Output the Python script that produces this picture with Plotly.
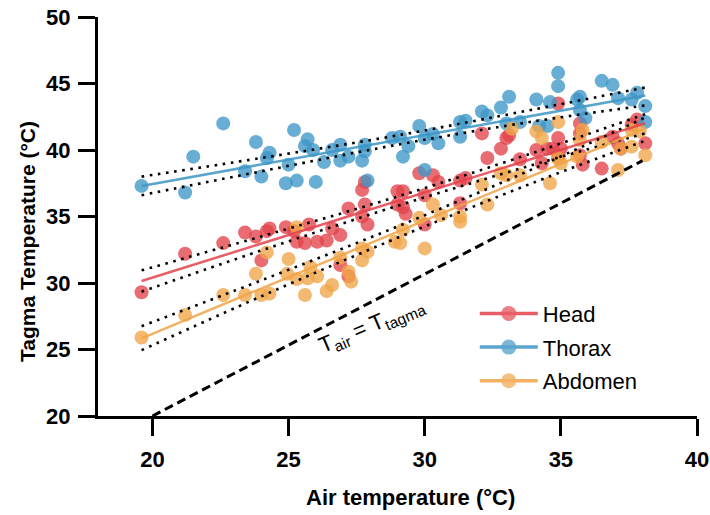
import plotly.graph_objects as go

# ---------------- data ----------------
thorax_x = [19.6, 21.2, 21.5, 22.6, 23.4, 23.8, 24.0, 24.3, 24.2, 25.0, 25.2, 24.9, 25.3, 25.7, 25.6,
            25.9, 26.0, 26.3, 26.6, 26.9, 26.9, 27.2, 27.7, 27.8, 27.8, 27.9, 28.8, 29.1, 29.2, 29.4,
            29.8, 30.0, 30.3, 30.5, 30.0, 31.3, 31.5, 31.3, 32.1, 32.3, 32.8, 33.1, 33.0, 33.5, 34.1,
            34.6, 34.9, 34.9, 34.2, 34.5, 35.6, 35.7, 35.7, 35.9, 36.5, 36.9, 37.1, 37.6, 37.8, 38.1, 38.1]
thorax_y = [37.3, 36.8, 39.5, 42.0, 38.4, 40.6, 38.0, 39.8, 39.4, 38.9, 41.5, 37.5, 37.7, 40.8, 40.3,
            40.0, 37.6, 39.1, 40.0, 40.4, 39.2, 39.5, 39.2, 40.4, 39.9, 37.7, 40.9, 41.0, 39.5, 40.3,
            41.8, 40.9, 41.2, 40.5, 38.5, 42.1, 42.2, 41.0, 42.9, 42.6, 43.2, 44.0, 42.0, 42.1, 43.8,
            43.6, 45.8, 44.8, 41.8, 41.8, 43.8, 44.0, 43.0, 42.4, 45.2, 44.9, 43.9, 43.8, 44.3, 43.3, 42.1]

head_x = [19.6, 21.2, 22.6, 23.4, 23.8, 24.2, 24.3, 24.0, 24.9, 25.2, 25.3, 25.6, 25.75, 26.05, 26.4,
          26.6, 26.9, 27.2, 27.7, 27.9, 27.8, 27.7, 27.8, 29.0, 29.2, 29.0, 29.2, 29.3, 29.8, 30.3,
          30.5, 30.0, 30.0, 31.3, 31.5, 31.3, 32.1, 32.3, 32.8, 33.0, 33.1, 33.5, 26.9, 27.2, 34.9,
          34.1, 34.3, 34.5, 34.7, 34.9, 35.0, 34.9, 35.7, 35.7, 35.7, 35.8, 36.5, 36.9, 37.1, 37.2,
          37.6, 37.8, 38.1]
head_y = [29.3, 32.2, 33.0, 33.8, 33.5, 33.9, 34.1, 31.7, 34.2, 33.9, 33.1, 33.0, 34.4, 33.1, 33.2,
          34.1, 33.6, 35.6, 35.0, 34.4, 35.9, 37.0, 37.6, 36.9, 36.9, 35.9, 35.7, 35.2, 38.25, 38.1,
          37.6, 36.6, 34.4, 37.7, 37.9, 36.0, 41.25, 39.4, 40.1, 40.9, 41.1, 39.3, 31.35, 30.5, 43.5,
          40.0, 39.0, 40.1, 40.1, 40.9, 40.1, 39.4, 42.0, 41.25, 39.6, 38.9, 38.6, 41.0, 40.5, 40.1,
          41.9, 42.3, 40.5]

abdomen_x = [19.6, 21.2, 22.6, 23.4, 23.8, 24.0, 24.3, 24.2, 25.0, 24.95, 25.3, 25.6, 25.8, 25.7, 26.05,
             26.4, 25.3, 26.6, 26.9, 27.2, 27.3, 27.7, 27.9, 27.7, 28.9, 29.1, 29.2, 29.8, 30.3, 30.6,
             30.0, 31.3, 31.3, 32.1, 32.3, 32.8, 33.0, 33.5, 33.2, 34.1, 34.3, 34.9, 34.9, 35.0, 34.6,
             35.7, 35.8, 35.6, 36.5, 37.1, 37.2, 37.6, 37.6, 37.9, 38.1]
abdomen_y = [25.9, 27.6, 29.1, 29.1, 30.7, 29.1, 29.2, 32.3, 31.8, 30.7, 30.3, 29.1, 31.2, 30.35, 30.5,
             29.4, 34.2, 29.85, 31.9, 30.85, 30.1, 32.6, 32.35, 31.7, 33.1, 33.0, 34.0, 34.9, 35.9, 35.1,
             32.6, 35.0, 34.6, 37.4, 35.9, 38.25, 38.1, 38.1, 41.6, 41.4, 40.9, 42.1, 39.4, 39.0, 37.5,
             40.75, 41.5, 39.5, 40.6, 38.5, 40.1, 40.25, 41.5, 41.4, 39.6]

# regression lines (end points)
fit_x = [19.6, 38.1]
head_fit = [30.15, 42.0]
thorax_fit = [37.3, 44.1]
abdomen_fit = [25.84, 41.6]

# confidence bands (read at a few x positions)
band_x = [19.6, 24.0, 29.0, 34.0, 38.1]
thorax_hi = [38.0, 39.4, 41.1, 43.05, 44.7]
thorax_lo = [36.6, 38.4, 40.4, 42.15, 43.35]
head_hi = [30.95, 33.5, 36.5, 39.8, 42.7]
head_lo = [29.35, 32.45, 35.8, 38.9, 41.25]
abdomen_hi = [26.75, 30.2, 34.25, 38.6, 42.45]
abdomen_lo = [24.95, 29.0, 33.4, 37.55, 40.7]

# line of equality as drawn in the reference
ref_x = [20.0, 38.0]
ref_y = [20.0, 39.2]

x_ticks = [20, 25, 30, 35, 40]
y_ticks = [20, 25, 30, 35, 40, 45, 50]

RED = "#E3424C"
BLUE = "#3D96C6"
ORANGE = "#F1A548"
FONT = "Arial, Liberation Sans, sans-serif"
FS = 22

fig = go.Figure()

series = [("Head", head_x, head_y, RED, head_fit, head_hi, head_lo),
          ("Thorax", thorax_x, thorax_y, BLUE, thorax_fit, thorax_hi, thorax_lo),
          ("Abdomen", abdomen_x, abdomen_y, ORANGE, abdomen_fit, abdomen_hi, abdomen_lo)]

for name, xs, ys, col, fit, hi, lo in series:
    fig.add_trace(go.Scatter(x=xs, y=ys, mode="markers", showlegend=False,
                             marker=dict(size=14, color=col, opacity=0.78, line=dict(width=0))))

for name, xs, ys, col, fit, hi, lo in series:
    fig.add_trace(go.Scatter(x=fit_x, y=fit, mode="lines", showlegend=False,
                             line=dict(color=col, width=2.5), opacity=0.85))
    for band in (hi, lo):
        fig.add_trace(go.Scatter(x=band_x, y=band, mode="lines", showlegend=False,
                                 line=dict(color="black", width=2.6, dash="2.6px,5.6px", shape="spline")))

fig.add_trace(go.Scatter(x=ref_x, y=ref_y, mode="lines", showlegend=False,
                         line=dict(color="black", width=3, dash="9px,5px")))

# legend entries
for i, (name, xs, ys, col, fit, hi, lo) in enumerate(series):
    fig.add_trace(go.Scatter(x=[None], y=[None], mode="lines+markers", name=name,
                             legendgroup=name,
                             marker=dict(size=15, color=col, opacity=0.8),
                             line=dict(color=col, width=3.5), opacity=0.85))

fig.add_annotation(x=28.05, y=26.75, xref="x", yref="y", showarrow=False,
                   text="T<sub>air</sub> = T<sub>tagma</sub>", textangle=-23,
                   font=dict(family=FONT, size=FS, color="black"))

# axis titles placed like the reference
fig.add_annotation(x=-71 / 599, y=(416 - 242) / 399, xref="paper", yref="paper",
                   showarrow=False, text="Tagma Temperature (°C)", textangle=-90,
                   xanchor="center", yanchor="middle",
                   font=dict(family=FONT, size=21, color="black", weight="bold"))
fig.add_annotation(x=(410 - 98) / 599, y=(416 - 497) / 399, xref="paper", yref="paper",
                   showarrow=False, text="Air temperature (°C)",
                   xanchor="center", yanchor="middle",
                   font=dict(family=FONT, size=FS, color="black", weight="bold"))

axis_common = dict(showgrid=False, zeroline=False, showline=True, linecolor="black", linewidth=3,
                   ticks="outside", ticklen=17, tickwidth=3, tickcolor="black", automargin=False,
                   tickfont=dict(family=FONT, size=FS, color="black", weight="bold"))

fig.update_xaxes(range=[18, 40], tickvals=x_ticks, ticktext=[str(v) for v in x_ticks],
                 ticklabelstandoff=5, **axis_common)
fig.update_yaxes(range=[20, 50], tickvals=y_ticks, ticktext=[str(v) for v in y_ticks],
                 ticklabelstandoff=3, **axis_common)

fig.update_layout(
    width=710, height=515,
    margin=dict(l=98, r=13, t=17, b=99),
    plot_bgcolor="white", paper_bgcolor="white",
    legend=dict(x=0.629, y=0.309, xanchor="left", yanchor="top", bgcolor="rgba(0,0,0,0)",
                font=dict(family=FONT, size=FS, color="black"), tracegroupgap=2,
                itemwidth=58),
    font=dict(family=FONT),
)

fig.write_html("out.html")
